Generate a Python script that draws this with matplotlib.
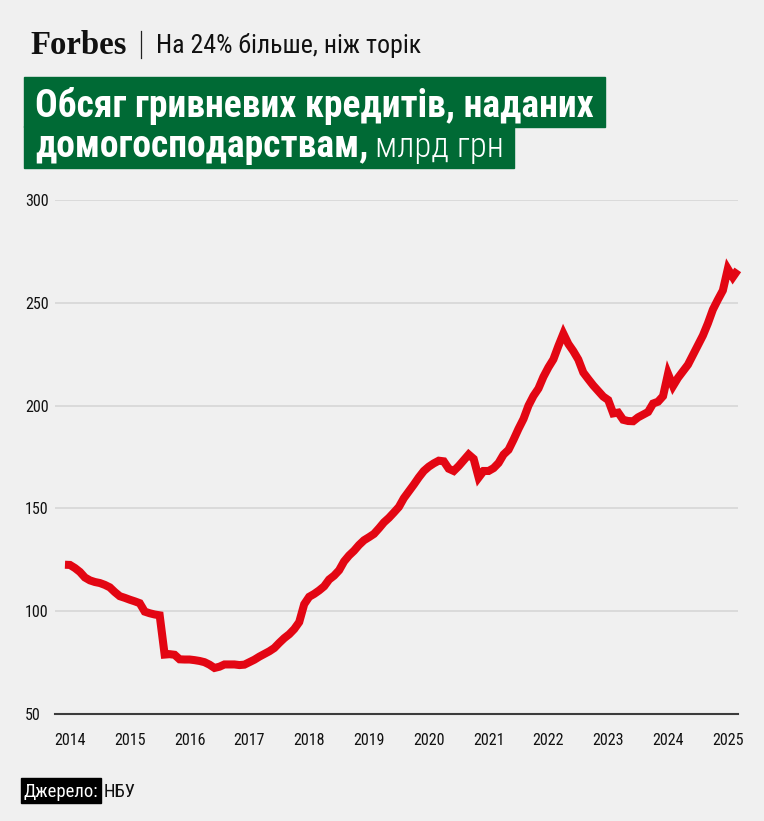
import numpy as np
import pandas as pd
import matplotlib
matplotlib.use('Agg')
import matplotlib.pyplot as plt
from matplotlib.patches import Rectangle
from matplotlib import font_manager as fm

#monthly hryvnia loans to households, bn UAH
months = pd.date_range('2013-12-01', '2025-03-01', freq='MS')
loans = [
    122.6, 122.5, 121.0, 119.1, 116.4, 115.0, 114.2, 113.7, 112.8, 111.6, 109.3, 107.3,
    106.5, 105.6, 104.8, 103.9, 99.8, 99.0, 98.4, 98.0, 78.9, 79.1, 78.8, 76.6,
    76.5, 76.5, 76.2, 75.8, 75.2, 74.0, 72.4, 73.0, 74.1, 74.1, 74.1, 73.8,
    74.0, 75.2, 76.4, 77.9, 79.2, 80.5, 82.1, 84.6, 86.9, 88.8, 91.3, 94.7,
    103.4, 107.0, 108.4, 110.1, 112.1, 115.4, 117.3, 119.9, 124.2, 127.1, 129.4, 132.2,
    134.5, 136.0, 137.6, 140.3, 143.2, 145.4, 148.0, 150.7, 155.0, 158.3, 161.6, 165.1,
    168.2, 170.3, 171.9, 173.2, 172.9, 169.3, 168.2, 170.6, 173.4, 176.2, 174.1, 165.0,
    168.2, 168.2, 169.6, 172.1, 176.2, 178.5, 183.4, 188.7, 193.5, 200.0, 204.7, 208.3,
    214.0, 218.6, 222.5, 229.0, 235.0, 230.0, 226.5, 222.4, 216.1, 212.9, 209.8, 207.1,
    204.4, 202.7, 196.2, 196.6, 193.1, 192.5, 192.4, 194.3, 195.6, 196.9, 201.0, 201.9,
    204.6, 215.5, 209.5, 213.5, 216.7, 219.9, 224.6, 229.4, 234.1, 240.0, 246.7, 251.5,
    256.0, 266.5, 262.5, 266.0,
]
years = list(range(2014, 2026))
y_ticks = [50, 100, 150, 200, 250, 300]

x = months.year + (months.month - 1) / 12

W, H = 764, 821
BG = '#f0f0f0'
RED = '#e30613'
GREEN = '#006a35'

#pick a condensed sans if one is installed, else Roboto
def find_face(keys, style):
    for key in keys:
        for f in fm.fontManager.ttflist:
            fn = f.fname.lower().replace('-', '').replace('_', '')
            if key not in fn or 'italic' in fn or 'oblique' in fn:
                continue
            if style == 'regular' and not any(w in fn for w in ['bold', 'light', 'thin', 'medium', 'black']):
                return fm.FontProperties(fname=f.fname)
            if style != 'regular' and style in fn and 'semi' not in fn and 'extra' not in fn:
                return fm.FontProperties(fname=f.fname)
    return None

cond_keys = ['liberationsansnarrow', 'robotocondensed', 'dejavusanscondensed', 'opensanscondensed',
             'notosanscondensed']
reg = find_face(cond_keys, 'regular')
bld = find_face(cond_keys, 'bold')
lgt = find_face(cond_keys, 'light')
if reg is None or bld is None:
    reg = fm.FontProperties(family='Roboto')
    bld = fm.FontProperties(family='Roboto', weight='bold')
if lgt is None:
    lgt = reg

def fx(px):
    return px / W

def fy(py):
    return 1 - py / H

fig = plt.figure(figsize=(W / 100, H / 100), dpi=100, facecolor=BG)
renderer = fig.canvas.get_renderer()

def fit(texts, target):
    #scale a group of texts so their joint width matches the reference
    x0 = min(t.get_window_extent(renderer).x0 for t in texts)
    x1 = max(t.get_window_extent(renderer).x1 for t in texts)
    k = target / (x1 - x0)
    for t in texts:
        t.set_fontsize(t.get_fontsize() * k)

#chart area
ax = fig.add_axes([fx(55), fy(714), (738 - 55) / W, (714 - 200) / H])
ax.set_facecolor(BG)
ax.plot(x, loans, color=RED, lw=5.8, solid_joinstyle='miter', solid_capstyle='butt',
        clip_on=False, zorder=3)
ax.set_xlim(2013.75, 2025.17)
ax.set_ylim(50, 300)
ax.set_yticks(y_ticks)
ax.set_xticks(years)
ax.set_xticklabels([str(yr) for yr in years])
ax.yaxis.grid(True, color='#d4d4d4', lw=1.1)
ax.set_axisbelow(True)
for s in ['top', 'right', 'left']:
    ax.spines[s].set_visible(False)
ax.spines['bottom'].set_color('#3c3c3c')
ax.spines['bottom'].set_linewidth(1.5)
ax.spines['bottom'].set_zorder(2)
ax.tick_params(axis='both', length=0, labelcolor='#111111')
ax.tick_params(axis='x', pad=13.5)
ax.tick_params(axis='y', pad=21.6)
for lbl in ax.get_yticklabels() + ax.get_xticklabels():
    lbl.set_fontproperties(reg)
    lbl.set_fontsize(11.5)
for lbl in ax.get_yticklabels():
    lbl.set_ha('left')

#header
fig.text(fx(30), fy(53.5), 'Forbes', family=['Liberation Serif', 'DejaVu Serif'],
         weight='bold', fontsize=23.6, va='baseline', color='#111111')
fig.add_artist(plt.Line2D([fx(141), fx(141)], [fy(31.5), fy(58.5)], color='#222222', lw=0.9))
sub = fig.text(fx(156), fy(53.5), 'На 24% більше, ніж торік', fontproperties=reg,
               va='baseline', color='#111111')
sub.set_fontsize(18.5)
fit([sub], 266)

#title on green boxes
t1 = fig.text(fx(35), fy(117), 'Обсяг гривневих кредитів, наданих', fontproperties=bld,
              va='baseline', color='white', zorder=5)
t1.set_fontsize(27)
fit([t1], 560)
t2 = fig.text(fx(35), fy(157), 'домогосподарствам,', fontproperties=bld,
              va='baseline', color='white', zorder=5)
t2.set_fontsize(t1.get_fontsize())
b2 = t2.get_window_extent(renderer)
t3 = fig.text((b2.x1 + 7) / W, fy(157), 'млрд грн', fontproperties=lgt,
              va='baseline', color='white', zorder=5)
t3.set_fontsize(t1.get_fontsize())
w3 = t3.get_window_extent(renderer).width
if w3 > 132:
    t3.set_fontsize(t3.get_fontsize() * 129 / w3)
e1 = t1.get_window_extent(renderer).x1 + 11
e2 = t3.get_window_extent(renderer).x1 + 10
fig.patches.append(Rectangle((fx(24), fy(127)), (e1 - 24) / W, (127 - 77.5) / H,
                             transform=fig.transFigure, color=GREEN, zorder=1))
fig.patches.append(Rectangle((fx(24), fy(168.5)), (e2 - 24) / W, (168.5 - 126.5) / H,
                             transform=fig.transFigure, color=GREEN, zorder=1))

#source
s1 = fig.text(fx(23), fy(796.5), 'Джерело:', fontproperties=reg, va='baseline',
              color='white', zorder=5)
s1.set_fontsize(14.5)
fit([s1], 74)
sb = s1.get_window_extent(renderer)
fig.patches.append(Rectangle((fx(20.5), fy(802.5)), (sb.x1 + 3 - 20.5) / W, (802.5 - 778) / H,
                             transform=fig.transFigure, color='black', zorder=1))
s2 = fig.text((sb.x1 + 6) / W, fy(796.5), 'НБУ', fontproperties=reg, va='baseline',
              color='#111111')
s2.set_fontsize(s1.get_fontsize())

fig.savefig('out.png', dpi=100, facecolor=BG)
